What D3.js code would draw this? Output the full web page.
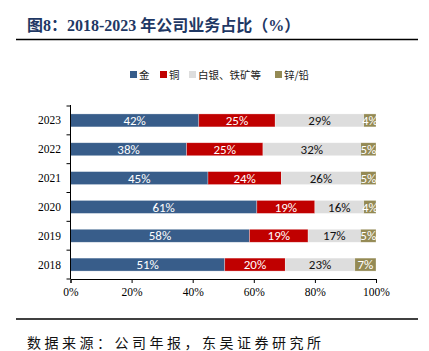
<!DOCTYPE html>
<html>
<head>
<meta charset="utf-8">
<script src="https://cdn.jsdelivr.net/npm/d3@7"></script>
<style>
  body { margin: 0; background: #fff; }
  svg { display: block; }
</style>
</head>
<body>
<svg id="chart" width="429" height="351"></svg>
<script>
const years = ["2023", "2022", "2021", "2020", "2019", "2018"];
const seriesNames = ["金", "铜", "白银、铁矿等", "锌/铅"];
const gold = [42, 38, 45, 61, 58, 51];
const copper = [25, 25, 24, 19, 19, 20];
const silverIron = [29, 32, 26, 16, 17, 23];
const zincLead = [4, 5, 5, 4, 5, 7];
const xTicks = [0, 0.2, 0.4, 0.6, 0.8, 1];

const colors = ["#385D8A", "#C00000", "#DDDDDD", "#948A54"];
const labelColors = ["#fff", "#fff", "#111", "#fff"];

const svg = d3.select("#chart");

// table for stacking
const rows = years.map((y, i) => ({
  year: y,
  s0: gold[i], s1: copper[i], s2: silverIron[i], s3: zincLead[i]
}));
const keys = ["s0", "s1", "s2", "s3"];
const stacked = d3.stack().keys(keys).offset(d3.stackOffsetExpand)(rows);

const plotLeft = 70.5, plotRight = 376, plotTop = 106, plotBottom = 279;

const xScale = d3.scaleLinear().domain([0, 1]).range([plotLeft, plotRight]);
const yScale = d3.scaleBand().domain(years).range([plotTop, plotBottom])
  .paddingInner(0.55).paddingOuter(0.275);

// title
svg.append("text")
  .attr("x", 27).attr("y", 31)
  .attr("font-family", "'Liberation Serif', 'Noto Sans CJK SC', serif")
  .attr("font-weight", "bold")
  .attr("font-size", 16)
  .attr("fill", "#1F3864")
  .text("图8：2018-2023 年公司业务占比（%）");

svg.append("line")
  .attr("x1", 16).attr("x2", 418).attr("y1", 39.5).attr("y2", 39.5)
  .attr("stroke", "#000").attr("stroke-width", 1.5);

// legend
const legendX = [130, 160, 189, 275];
const legend = svg.append("g");
seriesNames.forEach((name, i) => {
  legend.append("rect")
    .attr("x", legendX[i]).attr("y", 71)
    .attr("width", 7).attr("height", 7)
    .attr("fill", colors[i]);
  legend.append("text")
    .attr("x", legendX[i] + 9).attr("y", 78.5)
    .attr("font-family", "'Noto Sans CJK SC', sans-serif")
    .attr("font-size", 10.5)
    .attr("fill", "#222")
    .text(name);
});

// bars
const layer = svg.append("g").selectAll("g")
  .data(stacked)
  .join("g")
  .attr("fill", (d, i) => colors[i]);

layer.selectAll("rect")
  .data(d => d)
  .join("rect")
  .attr("x", d => xScale(d[0]))
  .attr("width", d => xScale(d[1]) - xScale(d[0]))
  .attr("y", d => yScale(d.data.year))
  .attr("height", yScale.bandwidth())
  .attr("stroke", "#fff")
  .attr("stroke-opacity", 0.5)
  .attr("stroke-width", 0.6);

// data labels
stacked.forEach((s, i) => {
  svg.append("g").selectAll("text")
    .data(s)
    .join("text")
    .attr("x", d => (xScale(d[0]) + xScale(d[1])) / 2)
    .attr("y", d => yScale(d.data.year) + yScale.bandwidth() / 2)
    .attr("dy", "0.36em")
    .attr("text-anchor", "middle")
    .attr("font-family", "Carlito, 'Liberation Sans', sans-serif")
    .attr("font-size", 13)
    .attr("fill", labelColors[i])
    .text(d => d.data[s.key] + "%");
});

// y axis
const axisG = svg.append("g").attr("stroke", "#000").attr("stroke-width", 1);
axisG.append("line")
  .attr("x1", plotLeft).attr("x2", plotLeft).attr("y1", plotTop - 1).attr("y2", plotBottom);
d3.range(years.length + 1).forEach(k => {
  const yy = plotTop + k * (plotBottom - plotTop) / years.length;
  axisG.append("line")
    .attr("x1", plotLeft - 4).attr("x2", plotLeft).attr("y1", yy).attr("y2", yy);
});
svg.append("g").selectAll("text")
  .data(years)
  .join("text")
  .attr("x", 61)
  .attr("y", d => yScale(d) + yScale.bandwidth() / 2)
  .attr("dy", "0.35em")
  .attr("text-anchor", "end")
  .attr("font-family", "'Liberation Serif', serif")
  .attr("font-size", 11.5)
  .attr("fill", "#000")
  .text(d => d);

// x axis
svg.append("g")
  .attr("transform", `translate(0, ${plotBottom})`)
  .call(d3.axisBottom(xScale).tickValues(xTicks).tickSize(4).tickPadding(5)
    .tickFormat(d3.format(".0%")))
  .call(g => g.select(".domain").attr("stroke", "#000"))
  .call(g => g.selectAll(".tick line").attr("stroke", "#000"))
  .call(g => g.selectAll("text")
    .attr("font-family", "'Liberation Serif', serif")
    .attr("font-size", 11.5)
    .attr("fill", "#000"));

// footer
svg.append("line")
  .attr("x1", 16).attr("x2", 418).attr("y1", 319).attr("y2", 319)
  .attr("stroke", "#000").attr("stroke-width", 1.5);

svg.append("text")
  .attr("x", 27).attr("y", 348)
  .attr("font-family", "'Noto Sans CJK SC', sans-serif")
  .attr("font-size", 14)
  .attr("letter-spacing", 3.5)
  .attr("fill", "#111")
  .text("数据来源：公司年报，东吴证券研究所");
</script>
</body>
</html>
